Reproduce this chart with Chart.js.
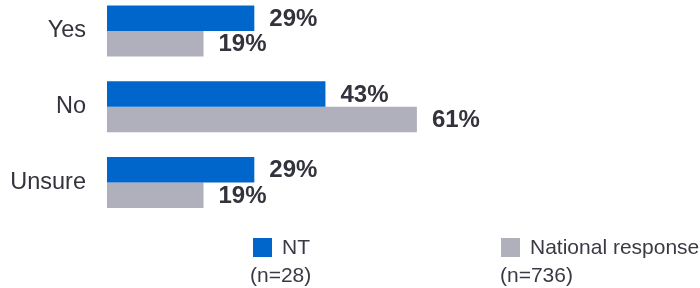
<!DOCTYPE html>
<html>
<head>
<meta charset="utf-8">
<script src="https://cdn.jsdelivr.net/npm/chart.js@4.4.1/dist/chart.umd.min.js"></script>
<style>
    html, body { margin: 0; padding: 0; background: #fff; }
    #wrap { position: relative; width: 700px; height: 288px; }
</style>
</head>
<body>
<div id="wrap"><canvas id="surveyChart" width="700" height="288"></canvas></div>
<script>
    // Dữ liệu
    const categories = ['Yes', 'No', 'Unsure'];
    const ntValues = [29, 43, 29];
    const nationalValues = [19, 61, 19];
    const seriesNames = ['NT', 'National response'];
    const sampleSizes = ['(n=28)', '(n=736)'];

    const FONT = '"Liberation Sans", Arial, Helvetica, sans-serif';
    const TEXT = '#33333d';

    // nhãn giá trị ở cuối mỗi thanh
    const valueLabels = {
        id: 'valueLabels',
        afterDatasetsDraw(chart) {
            const ctx = chart.ctx;
            ctx.save();
            ctx.font = 'bold 24px ' + FONT;
            ctx.fillStyle = TEXT;
            ctx.textAlign = 'left';
            ctx.textBaseline = 'middle';
            chart.data.datasets.forEach((ds, i) => {
                chart.getDatasetMeta(i).data.forEach((bar, j) => {
                    ctx.fillText(ds.data[j] + '%', bar.x + 15, bar.y + 1);
                });
            });
            ctx.restore();
        }
    };

    // chú thích tự vẽ (hai dòng)
    const legendBoxX = [253, 501];
    const legendSizeX = [250, 500];
    const bottomLegend = {
        id: 'bottomLegend',
        afterDraw(chart) {
            const ctx = chart.ctx;
            ctx.save();
            ctx.font = '21px ' + FONT;
            ctx.textAlign = 'left';
            ctx.textBaseline = 'alphabetic';
            chart.data.datasets.forEach((ds, i) => {
                const x = legendBoxX[i];
                ctx.fillStyle = ds.backgroundColor;
                ctx.fillRect(x, 238, 19, 19);
                ctx.fillStyle = '#3a3a44';
                ctx.fillText(ds.label, x + 29, 254);
                ctx.fillText(sampleSizes[i], legendSizeX[i], 282);
            });
            ctx.restore();
        }
    };

    const ctx = document.getElementById('surveyChart').getContext('2d');
    const chart = new Chart(ctx, {
        type: 'bar',
        data: {
            labels: categories,
            datasets: [{
                label: seriesNames[0],
                data: ntValues,
                backgroundColor: '#0066cc',
                clip: false
            }, {
                label: seriesNames[1],
                data: nationalValues,
                backgroundColor: '#b0b0bc',
                clip: false
            }]
        },
        options: {
            indexAxis: 'y',
            responsive: false,
            animation: false,
            categoryPercentage: 0.675,
            barPercentage: 1,
            layout: {
                padding: { top: 31, bottom: 105.5, left: 0, right: 85 }
            },
            scales: {
                x: {
                    display: false,
                    min: 0,
                    max: 100
                },
                y: {
                    offset: false,
                    grid: { display: false, drawTicks: false },
                    border: { display: false },
                    ticks: {
                        padding: 21,
                        color: TEXT,
                        font: { family: FONT, size: 23.5 }
                    },
                    afterFit(scale) {
                        scale.width = 107;
                        scale.paddingTop = 0;
                        scale.paddingBottom = 0;
                    }
                }
            },
            plugins: {
                legend: { display: false },
                tooltip: { enabled: false }
            }
        },
        plugins: [valueLabels, bottomLegend]
    });
</script>
</body>
</html>
